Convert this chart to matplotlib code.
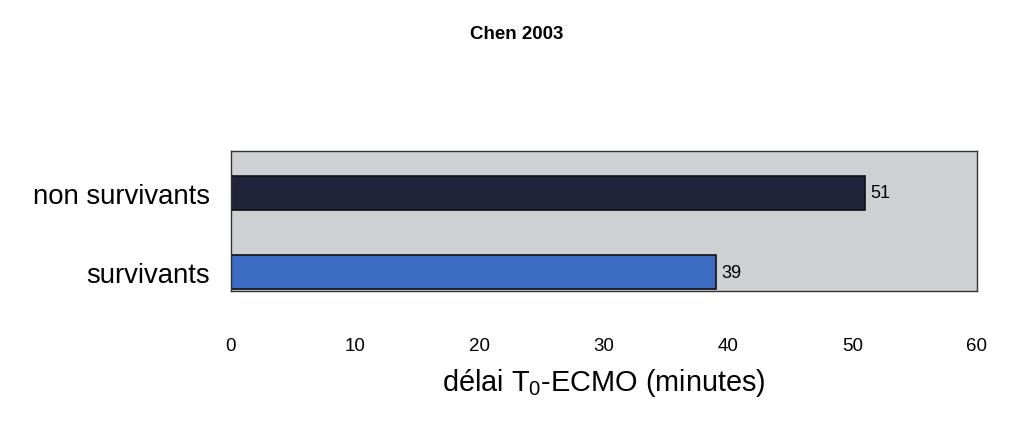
import numpy as np
import matplotlib
matplotlib.use("Agg")
import matplotlib.pyplot as plt

plt.rcParams['font.family'] = ['Liberation Sans', 'DejaVu Sans']
plt.rcParams['mathtext.default'] = 'regular'

categories = ["survivants", "non survivants"]
values = [39, 51]
bar_colors = ["#3b6cc2", "#22243c"]
xticks = [0, 10, 20, 30, 40, 50, 60]

fig = plt.figure(figsize=(10.1, 4.27), dpi=100)
ax = fig.add_axes([0.2287, 0.316, 0.7386, 0.328])
ax.set_facecolor("#ced0d3")

ypos = np.arange(len(categories))
bars = ax.barh(ypos, values, height=0.42, color=bar_colors, edgecolor="#111111", linewidth=1.2)
for b, v in zip(bars, values):
    ax.text(v + 0.4, b.get_y() + b.get_height() / 2, str(v), va="center", ha="left", fontsize=13)

ax.set_xlim(0, 60)
ax.set_ylim(-0.24, 1.53)
ax.set_xticks(xticks)
ax.set_yticks(ypos)
ax.set_yticklabels(categories, fontsize=19.8)
ax.tick_params(axis="x", length=0, pad=33, labelsize=13.5)
ax.tick_params(axis="y", length=0, pad=15)
for s in ax.spines.values():
    s.set_color("#333333")
    s.set_linewidth(1.0)

ax.set_xlabel("délai T$_0$-ECMO (minutes)", fontsize=20.8, labelpad=9)
fig.suptitle("Chen 2003", y=0.94, x=0.512, fontsize=13.5, fontweight="bold")

plt.savefig("out.png", dpi=100)
